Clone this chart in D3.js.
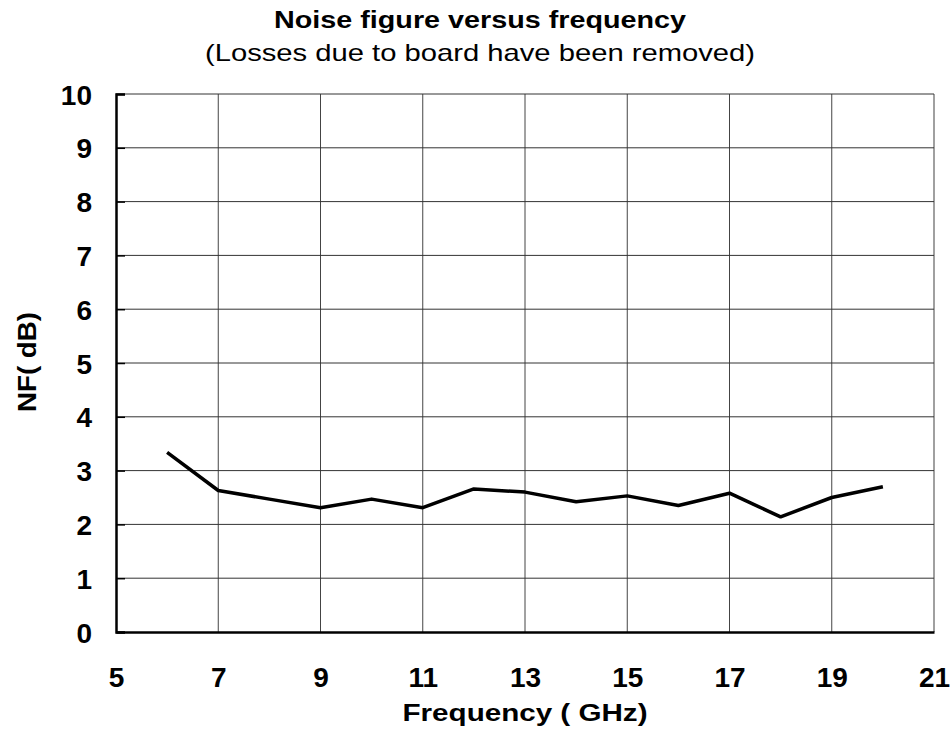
<!DOCTYPE html>
<html>
<head>
<meta charset="utf-8">
<script src="https://cdn.jsdelivr.net/npm/d3@7"></script>
<style>
  body { margin: 0; background: #fff; }
  text { font-family: "Liberation Sans", Arial, sans-serif; fill: #000; }
</style>
</head>
<body>
<svg width="950" height="751"></svg>
<script>
// frequency in GHz, noise figure in dB
var freqs = [6, 7, 8, 9, 10, 11, 12, 13, 14, 15, 16, 17, 18, 19, 20];
var nfValues = [3.34, 2.63, 2.47, 2.31, 2.47, 2.31, 2.66, 2.60, 2.42, 2.53, 2.35, 2.58, 2.14, 2.50, 2.70];
var xTicks = [5, 7, 9, 11, 13, 15, 17, 19, 21];
var yTicks = [0, 1, 2, 3, 4, 5, 6, 7, 8, 9, 10];

var svg = d3.select("svg");
var plotLeft = 116, plotRight = 934, plotTop = 94, plotBottom = 632;

var x = d3.scaleLinear().domain([5, 21]).range([plotLeft, plotRight]);
var y = d3.scaleLinear().domain([0, 10]).range([plotBottom, plotTop]);

// grid
var grid = svg.append("g").attr("class", "grid");
grid.selectAll("line.v")
  .data(xTicks.filter(function(d) { return d > 5; }))
  .enter().append("line")
    .attr("x1", function(d) { return x(d); })
    .attr("x2", function(d) { return x(d); })
    .attr("y1", plotTop).attr("y2", plotBottom)
    .attr("stroke", function(d) { return d == 21 ? "#808080" : "#444"; })
    .attr("stroke-width", function(d) { return d == 21 ? 1.5 : 1; });
grid.selectAll("line.h")
  .data(yTicks.filter(function(d) { return d > 0; }))
  .enter().append("line")
    .attr("x1", plotLeft).attr("x2", plotRight)
    .attr("y1", function(d) { return y(d); })
    .attr("y2", function(d) { return y(d); })
    .attr("stroke", "#333")
    .attr("stroke-width", 1);

// axes (left and bottom drawn heavier)
var yAxis = d3.axisLeft(y).tickValues(yTicks).tickSize(-9).tickPadding(24).tickFormat(d3.format("d"));
var xAxis = d3.axisBottom(x).tickValues(xTicks).tickSize(0).tickPadding(37).tickFormat(d3.format("d"));

var gy = svg.append("g").attr("transform", "translate(" + plotLeft + ",0)").call(yAxis);
var gx = svg.append("g").attr("transform", "translate(0," + plotBottom + ")").call(xAxis);

[gx, gy].forEach(function(g) {
  g.select(".domain").attr("stroke", "#000").attr("stroke-width", 2.5);
  g.selectAll(".tick line").attr("stroke", "#000").attr("stroke-width", 1.5);
  g.selectAll(".tick text")
    .style("font-family", "Liberation Sans, Arial, sans-serif")
    .style("font-size", "28px")
    .style("font-weight", "bold")
    .attr("fill", "#000");
});
gy.selectAll(".tick text").attr("dy", "0.36em");
gx.selectAll(".tick text").attr("dy", "0.64em");

// data line
var line = d3.line()
  .x(function(d, i) { return x(freqs[i]); })
  .y(function(d) { return y(d); });

svg.append("path")
  .datum(nfValues)
  .attr("d", line)
  .attr("fill", "none")
  .attr("stroke", "#000")
  .attr("stroke-width", 3.5)
  .attr("stroke-linejoin", "round");

// titles (the reference text is a bit wider than plain Arial, so fix the lengths)
svg.append("text")
  .attr("x", 480).attr("y", 28)
  .attr("text-anchor", "middle")
  .attr("textLength", 412).attr("lengthAdjust", "spacingAndGlyphs")
  .style("font-size", "23px").style("font-weight", "bold")
  .text("Noise figure versus frequency");

svg.append("text")
  .attr("x", 480).attr("y", 61)
  .attr("text-anchor", "middle")
  .attr("textLength", 550).attr("lengthAdjust", "spacingAndGlyphs")
  .style("font-size", "24px")
  .text("(Losses due to board have been removed)");

svg.append("text")
  .attr("x", 525).attr("y", 721)
  .attr("text-anchor", "middle")
  .attr("textLength", 245).attr("lengthAdjust", "spacingAndGlyphs")
  .style("font-size", "24px").style("font-weight", "bold")
  .text("Frequency ( GHz)");

svg.append("text")
  .attr("transform", "translate(36,362) rotate(-90)")
  .attr("text-anchor", "middle")
  .attr("textLength", 100).attr("lengthAdjust", "spacingAndGlyphs")
  .style("font-size", "26px").style("font-weight", "bold")
  .text("NF( dB)");
</script>
</body>
</html>
